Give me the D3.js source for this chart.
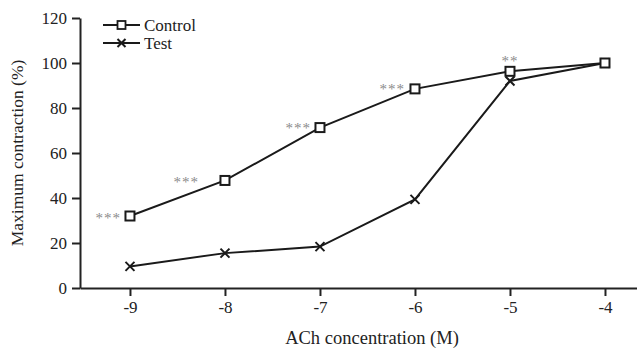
<!DOCTYPE html>
<html>
<head>
<meta charset="utf-8">
<script src="https://cdn.jsdelivr.net/npm/d3@7"></script>
<style>
  body { margin: 0; background: #fff; }
</style>
</head>
<body>
<script>
// concentrations (log M)
const concentrations = [-9, -8, -7, -6, -5, -4]
// % of maximum contraction
const controlValues = [32, 47.8, 71.3, 88.5, 96.3, 100]
const testValues = [9.6, 15.5, 18.4, 39.4, 92, 100]
// significance marks next to control points
const signif = ["***", "***", "***", "***", "**", ""]
const yTicks = [0, 20, 40, 60, 80, 100, 120]

const W = 637, H = 348
const fontSize = 17
const serif = "'Liberation Serif', 'Times New Roman', Times, serif"

const svg = d3.select("body").append("svg")
    .attr("width", W)
    .attr("height", H)
    .style("font-family", serif)

// scales (x axis runs a bit past -9 and -4)
const x = d3.scaleLinear().domain([-9.526, -3.663]).range([80, 637])
const y = d3.scaleLinear().domain([0, 120]).range([288, 18])

/* AXES ---------------------------------------------------------------- */
const xAxis = svg.append("g")
    .attr("transform", "translate(0," + y(0) + ")")
    .call(d3.axisBottom(x)
        .tickValues(concentrations)
        .tickFormat(d => String(d))
        .tickSize(8)
        .tickSizeOuter(0)
        .tickPadding(5))

const yAxis = svg.append("g")
    .attr("transform", "translate(" + x.range()[0] + ",0)")
    .call(d3.axisLeft(y)
        .tickValues(yTicks)
        .tickSize(8)
        .tickSizeOuter(0)
        .tickPadding(5))

svg.selectAll(".domain, .tick line")
    .attr("stroke", "#222")
    .attr("stroke-width", 2)
svg.selectAll("g").attr("font-family", null)
svg.selectAll(".tick text")
    .style("font-family", serif)
    .attr("font-size", fontSize)
    .attr("fill", "#222")
yAxis.selectAll(".tick text").attr("dy", "0.34em")

// axis titles
svg.append("text")
    .attr("x", 372)
    .attr("y", 344)
    .attr("text-anchor", "middle")
    .attr("font-size", 18.5)
    .attr("fill", "#222")
    .style("font-family", serif)
    .text("ACh concentration (M)")

svg.append("text")
    .attr("transform", "translate(23," + (y(60)) + ") rotate(-90)")
    .attr("text-anchor", "middle")
    .attr("font-size", 17.5)
    .attr("fill", "#222")
    .style("font-family", serif)
    .text("Maximum contraction (%)")

/* LINES --------------------------------------------------------------- */
const line = d3.line()
    .x((d, i) => x(concentrations[i]))
    .y(d => y(d))

svg.append("path")
    .datum(testValues)
    .attr("d", line)
    .attr("fill", "none")
    .attr("stroke", "#1a1a1a")
    .attr("stroke-width", 2)

svg.append("path")
    .datum(controlValues)
    .attr("d", line)
    .attr("fill", "none")
    .attr("stroke", "#1a1a1a")
    .attr("stroke-width", 2)

// markers
const crossPath = s => "M" + (-s) + "," + (-s) + "L" + s + "," + s + "M" + (-s) + "," + s + "L" + s + "," + (-s)

svg.append("g").selectAll("path")
    .data(testValues)
    .join("path")
    .attr("transform", (d, i) => "translate(" + x(concentrations[i]) + "," + y(d) + ")")
    .attr("d", crossPath(4.5))
    .attr("stroke", "#1a1a1a")
    .attr("stroke-width", 2)

svg.append("g").selectAll("rect")
    .data(controlValues)
    .join("rect")
    .attr("x", (d, i) => x(concentrations[i]) - 4.5)
    .attr("y", d => y(d) - 4.5)
    .attr("width", 9)
    .attr("height", 9)
    .attr("fill", "white")
    .attr("stroke", "#1a1a1a")
    .attr("stroke-width", 2)

/* SIGNIFICANCE -------------------------------------------------------- */
// shift of each mark from its point (the "**" sits above)
const starDx = [-9, -26, -9, -10, 0, 0]
const starDy = [7, 7, 5, 5, -5, 0]
svg.append("g").selectAll("text")
    .data(signif)
    .join("text")
    .attr("x", (d, i) => x(concentrations[i]) + starDx[i])
    .attr("y", (d, i) => y(controlValues[i]) + starDy[i])
    .attr("text-anchor", (d, i) => i === 4 ? "middle" : "end")
    .attr("font-size", 15)
    .attr("letter-spacing", 1)
    .attr("fill", "#8a8a8a")
    .style("font-family", serif)
    .text(d => d)

/* LEGEND -------------------------------------------------------------- */
const legend = svg.append("g")
const legendItems = ["Control", "Test"]
legendItems.forEach((name, i) => {
    const ly = 25 + i * 18
    legend.append("line")
        .attr("x1", 103).attr("x2", 140)
        .attr("y1", ly).attr("y2", ly)
        .attr("stroke", "#1a1a1a")
        .attr("stroke-width", 2)
    if (i === 0) {
        legend.append("rect")
            .attr("x", 121.5 - 4).attr("y", ly - 4)
            .attr("width", 8).attr("height", 8)
            .attr("fill", "white")
            .attr("stroke", "#1a1a1a")
            .attr("stroke-width", 1.8)
    } else {
        legend.append("path")
            .attr("transform", "translate(121.5," + ly + ")")
            .attr("d", crossPath(4))
            .attr("stroke", "#1a1a1a")
            .attr("stroke-width", 2)
    }
    legend.append("text")
        .attr("x", 144)
        .attr("y", ly + 6)
        .attr("font-size", fontSize)
        .attr("fill", "#222")
        .style("font-family", serif)
        .text(name)
})
</script>
</body>
</html>
